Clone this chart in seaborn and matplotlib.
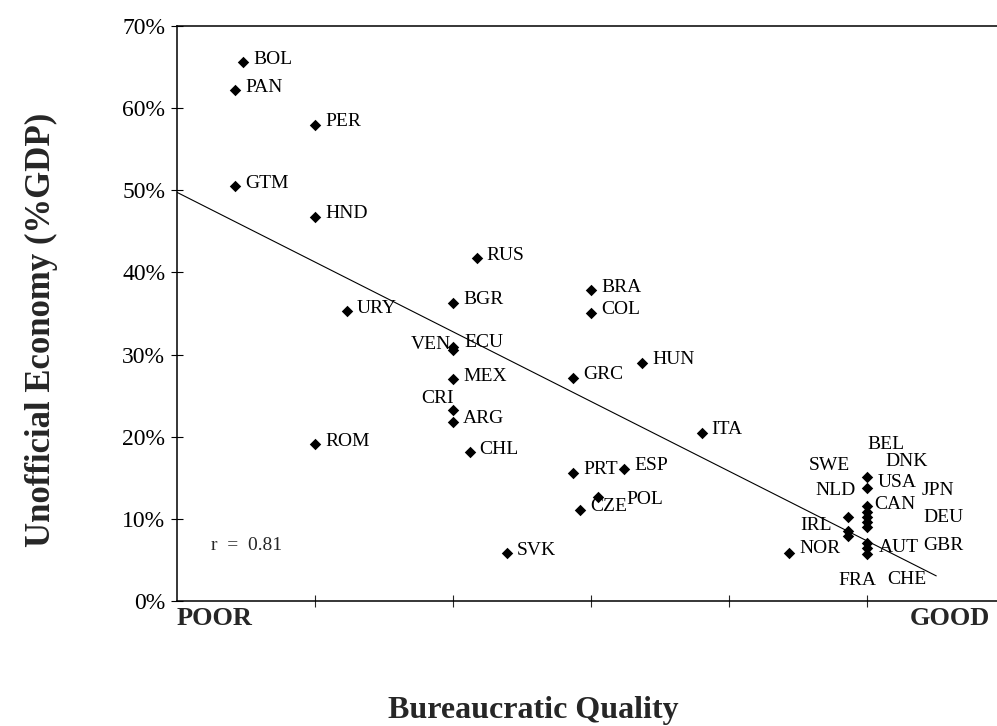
import numpy as np
import pandas as pd
import matplotlib
matplotlib.use("Agg")
import matplotlib.pyplot as plt
from matplotlib.ticker import FuncFormatter
import seaborn as sns

# ---------------- data ----------------
countries = ["BOL", "PAN", "PER", "GTM", "HND", "RUS", "BRA", "BGR", "COL", "URY",
             "VEN", "ECU", "MEX", "GRC", "HUN", "CRI", "ARG", "ROM", "CHL", "ITA",
             "PRT", "ESP", "CZE", "POL", "SVK", "NOR",
             "BEL", "DNK", "USA", "CAN", "JPN", "DEU", "GBR", "AUT", "CHE", "FRA",
             "SWE", "NLD", "IRL"]
bureaucratic_quality = [0.48, 0.42, 1.0, 0.42, 1.0, 2.17, 3.0, 2.0, 3.0, 1.23,
                        2.0, 2.0, 2.0, 2.87, 3.37, 2.0, 2.0, 1.0, 2.12, 3.8,
                        2.87, 3.24, 2.92, 3.05, 2.39, 4.43,
                        5.0, 5.0, 5.0, 5.0, 5.0, 5.0, 5.0, 5.0, 5.0, 5.0,
                        4.86, 4.86, 4.86]
unofficial_economy = [65.6, 62.2, 58.0, 50.5, 46.8, 41.7, 37.8, 36.3, 35.1, 35.3,
                      30.6, 30.9, 27.0, 27.2, 29.0, 23.3, 21.8, 19.1, 18.1, 20.5,
                      15.6, 16.1, 11.1, 12.7, 5.8, 5.8,
                      15.1, 13.8, 11.6, 10.8, 10.2, 9.6, 9.0, 7.1, 6.5, 5.7,
                      10.2, 8.5, 7.9]
y_ticks = [0, 10, 20, 30, 40, 50, 60, 70]
x_ticks = [1, 2, 3, 4, 5]
r_text = "r  =  0.81"

# label placement (pixel offsets from the marker; ha)
default_offset = (10, 3, "left")
label_offsets = {
    "VEN": (-2, 5, "right"), "ECU": (11, 5, "left"), "CRI": (1, 11, "right"),
    "POL": (28, -3, "left"),
    "BEL": (0, 32, "left"), "DNK": (18, 26, "left"), "USA": (10, 23, "left"),
    "CAN": (7, 8, "left"), "JPN": (54, 27, "left"), "DEU": (56, 5, "left"),
    "SWE": (-39, 52, "left"), "NLD": (-33, 41, "left"), "IRL": (-48, 11, "left"),
    "GBR": (56, -18, "left"), "AUT": (12, -5, "left"), "FRA": (-29, -26, "left"),
    "CHE": (20, -32, "left"), "NOR": (11, 5, "left"),
}

df = pd.DataFrame({"country": countries, "bq": bureaucratic_quality,
                   "ue": unofficial_economy})

# ---------------- style ----------------
sns.set_theme(style="white")
plt.rcParams["font.family"] = ["Liberation Serif", "DejaVu Serif"]

fig = plt.figure(figsize=(9.97, 7.26), dpi=100)
ax = fig.add_axes([0.1775, 0.1722, 0.8225, 0.792])

sns.scatterplot(data=df, x="bq", y="ue", marker="D", color="black", s=34,
                edgecolor="black", linewidth=0, ax=ax, zorder=3)

# OLS fit line over the axis range
slope, intercept = np.polyfit(df["bq"], df["ue"], 1)
fit_x = np.linspace(0, 5.5, 50)
fit = pd.DataFrame({"x": fit_x, "y": intercept + slope * fit_x})
sns.lineplot(data=fit, x="x", y="y", color="black", linewidth=0.8, ax=ax)

for c, xv, yv in zip(countries, bureaucratic_quality, unofficial_economy):
    dx, dy, ha = label_offsets.get(c, default_offset)
    ax.annotate(c, (xv, yv), xytext=(dx, dy), textcoords="offset pixels",
                ha=ha, va="center", fontsize=14, color="black")

ax.set_xlim(0, 5.94)
ax.set_ylim(0, 70)
ax.set_yticks(y_ticks)
ax.yaxis.set_major_formatter(FuncFormatter(lambda v, p: f"{int(v)}%"))
ax.set_xticks(x_ticks)
ax.set_xticklabels([])
ax.tick_params(axis="y", direction="inout", length=9, width=0.8, pad=4,
               labelsize=17, colors="black", left=True)
ax.tick_params(axis="x", direction="inout", length=9, width=0.8, bottom=True)

for side in ["left", "bottom", "top"]:
    ax.spines[side].set_visible(True)
    ax.spines[side].set_color("black")
    ax.spines[side].set_linewidth(1.1)
ax.spines["right"].set_visible(False)

ax.set_xlabel("")
ax.set_ylabel("")

ax.text(0.0, -0.03, "POOR", transform=ax.transAxes, ha="left", va="center",
        fontsize=19, fontweight="bold")
ax.text(0.9915, -0.03, "GOOD", transform=ax.transAxes, ha="right", va="center",
        fontsize=19, fontweight="bold")
ax.text(0.25, 6.7, r_text, fontsize=14, ha="left", va="center")

fig.text(0.535, 0.022, "Bureaucratic Quality", ha="center", va="center",
         fontsize=23, fontweight="bold")
fig.text(0.042, 0.545, "Unofficial Economy (%GDP)", ha="center", va="center",
         rotation=90, fontsize=25, fontweight="bold")

fig.savefig("out.png", dpi=100)
